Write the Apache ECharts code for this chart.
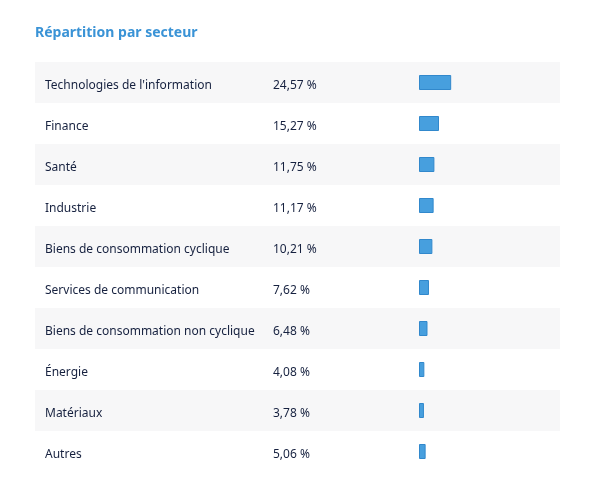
<!DOCTYPE html>
<html><head><meta charset="utf-8">
<script src="https://cdn.jsdelivr.net/npm/echarts@6/dist/echarts.min.js"></script>
<style>html,body{margin:0;padding:0;background:#fff}#c{width:595px;height:500px}</style>
</head><body><div id="c"></div>
<script>
const categories = ["Technologies de l'information","Finance","Santé","Industrie","Biens de consommation cyclique","Services de communication","Biens de consommation non cyclique","Énergie","Matériaux","Autres"];
const values = [24.57,15.27,11.75,11.17,10.21,7.62,6.48,4.08,3.78,5.06];
const valueLabels = ["24,57 %","15,27 %","11,75 %","11,17 %","10,21 %","7,62 %","6,48 %","4,08 %","3,78 %","5,06 %"];

const chart = echarts.init(document.getElementById('c'), null, {renderer:'canvas'});
const font = "'Noto Sans', 'Open Sans', sans-serif";
chart.setOption({
  animation:false,
  title:{text:'Répartition par secteur', left:30, top:21, textStyle:{color:'#3a93d6', fontSize:14, fontWeight:'bold', fontFamily:font}},
  grid:[
    {left:35, right:35, top:62, height:410},
    {left:419, width:131, top:62, height:410}
  ],
  xAxis:[
    {gridIndex:0, type:'value', min:0, max:1, show:false},
    {gridIndex:1, type:'value', min:0, max:100, show:false}
  ],
  yAxis:[
    {gridIndex:0, type:'category', data:categories, inverse:true,
     axisLine:{show:false}, axisTick:{show:false}, splitLine:{show:false},
     splitArea:{show:true, areaStyle:{color:['#f7f7f8','#ffffff']}},
     axisLabel:{inside:true, margin:10, formatter:(v,i)=>'{n|'+v+'}{v|'+valueLabels[i]+'}',
       rich:{n:{width:228, fontSize:12, color:'#16213f', fontFamily:font, padding:[7,0,0,0]}, v:{fontSize:12, color:'#16213f', fontFamily:font, padding:[7,0,0,0]}}}},
    {gridIndex:1, type:'category', data:categories, inverse:true, show:false}
  ],
  series:[{
    type:'bar', xAxisIndex:1, yAxisIndex:1, data:values, barWidth:15,
    itemStyle:{color:'#479fde', borderColor:'#3188cc', borderWidth:1}
  }]
});
</script></body></html>
